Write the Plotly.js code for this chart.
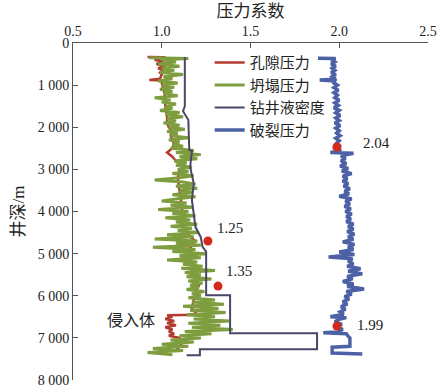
<!DOCTYPE html>
<html>
<head>
<meta charset="utf-8">
<script src="https://cdn.plot.ly/plotly-3.0.1.min.js"></script>
<style>html,body{margin:0;padding:0;background:#fff;}#chart{width:438px;height:390px;}</style>
</head>
<body>
<div id="chart"></div>
<script>
// ---- Data (depth in m, pressure coefficient) ----
const seriesNames = ["孔隙压力", "坍塌压力", "钻井液密度", "破裂压力"];

const poreDepth = [330,340,400,450,500,550,600,650,700,750,850,880,890,950,1100,1300,1500,1700,1900,2000,2100,2200,2300,2400,2500,2600,2700,2800,2900,3000,3050,3200,3500,3800,4100,4400,4600,4700,4800,4900,5100,5300,5450,5500,5700,5750,5900,6100,6300,6450,6460,6500,6550,6600,6650,6700,6750,6800,6850,6900,6950,7000,7100,7200,7300];
const poreVal   = [0.92,1.02,0.96,1.01,0.97,1.02,0.98,1.01,0.99,1.00,0.99,0.93,1.01,1.00,1.01,1.02,1.02,1.03,1.03,1.04,1.06,1.05,1.06,1.07,1.06,1.03,1.06,1.08,1.11,1.12,1.10,1.09,1.10,1.11,1.12,1.13,1.16,1.19,1.15,1.17,1.16,1.18,1.17,1.20,1.18,1.21,1.19,1.18,1.17,1.20,1.03,1.06,1.02,1.07,1.03,1.08,1.02,1.06,1.04,1.07,1.04,1.10,1.12,1.10,1.08];

const collapseDepth = [350,370,400,450,500,550,600,650,700,750,800,850,900,950,1000,1050,1100,1150,1200,1250,1300,1350,1400,1450,1500,1550,1600,1650,1700,1750,1800,1850,1900,1950,2000,2050,2100,2150,2200,2250,2300,2350,2400,2450,2500,2550,2600,2650,2700,2750,2800,2850,2900,2950,3000,3050,3100,3150,3200,3250,3300,3350,3400,3450,3500,3550,3600,3650,3700,3750,3800,3850,3900,3950,4000,4050,4100,4150,4200,4250,4300,4350,4400,4450,4500,4550,4600,4650,4700,4750,4800,4850,4900,4950,5000,5050,5100,5150,5200,5250,5300,5350,5400,5450,5500,5550,5600,5650,5700,5750,5800,5850,5900,5950,6000,6050,6100,6150,6200,6250,6300,6350,6400,6450,6500,6550,6600,6650,6700,6750,6800,6850,6900,6950,7000,7050,7100,7150,7200,7250,7300,7350,7400];
const collapseVal   = [0.93,1.15,1.00,1.08,0.98,1.10,1.00,1.07,0.99,1.12,1.01,1.06,0.98,1.09,1.00,1.07,0.99,1.06,1.01,1.09,0.96,1.05,1.00,1.08,1.02,1.06,0.99,1.10,1.02,1.12,1.03,1.08,1.01,1.10,1.04,1.13,1.03,1.09,1.05,1.15,1.04,1.10,1.06,1.12,1.05,1.18,1.08,1.22,1.10,1.20,1.07,1.14,1.08,1.17,1.09,1.15,1.06,1.18,1.10,0.96,1.12,1.19,1.08,1.20,1.10,1.17,1.06,1.19,1.09,1.00,1.14,1.05,1.18,0.98,1.15,1.06,1.19,1.02,1.16,1.08,1.20,1.05,1.17,1.09,1.21,1.03,1.18,0.96,1.20,1.08,1.22,0.95,1.19,1.06,1.25,1.10,1.22,1.03,1.20,1.12,1.23,1.11,1.30,1.13,1.22,1.14,1.28,1.15,1.23,1.16,1.21,1.14,1.24,1.17,1.22,1.15,1.30,1.17,1.35,1.12,1.32,1.16,1.36,1.14,1.30,1.18,1.38,1.15,1.33,1.17,1.40,1.13,1.28,1.10,1.22,1.05,1.18,1.00,1.15,0.95,1.12,0.92,1.06];

const mudDepth = [330,1500,1620,1830,2540,2560,2940,3330,3730,4130,4370,4610,4840,4950,5990,5990,6890,6890,7270,7270,7410,7410];
const mudVal   = [1.13,1.13,1.12,1.15,1.155,1.17,1.16,1.18,1.17,1.18,1.19,1.22,1.23,1.25,1.25,1.385,1.385,1.875,1.875,1.215,1.215,1.14];

const fracDepth = [360,365,400,450,500,550,600,650,700,750,800,860,880,900,950,1000,1060,1120,1180,1240,1300,1360,1420,1480,1540,1600,1660,1720,1780,1840,1900,1960,2020,2080,2140,2200,2260,2320,2380,2440,2500,2560,2600,2620,2680,2740,2800,2860,2920,2980,3040,3100,3160,3220,3280,3340,3400,3460,3520,3580,3640,3700,3760,3820,3880,3940,4000,4060,4120,4180,4240,4300,4360,4420,4480,4540,4600,4660,4720,4780,4840,4900,4960,5020,5080,5120,5180,5240,5300,5360,5420,5480,5540,5600,5660,5720,5780,5840,5900,5960,6020,6080,6140,6200,6260,6320,6380,6440,6500,6520,6560,6620,6680,6740,6800,6860,6880,6900,6960,7000,7200,7220,7360,7380];
const fracVal   = [1.88,1.98,1.955,1.975,1.955,1.98,1.96,1.975,1.955,1.98,1.96,1.98,1.89,1.975,1.97,1.99,1.97,1.995,1.97,1.99,1.975,2.00,1.975,1.995,1.97,2.00,1.98,2.005,1.98,2.00,1.975,2.005,1.98,2.00,1.985,2.005,1.98,2.00,1.985,2.00,1.98,2.01,1.95,2.08,2.01,2.035,2.01,2.04,2.005,2.05,2.015,2.07,2.02,2.045,2.02,2.05,2.025,2.06,2.03,2.055,2.00,2.07,2.035,2.06,2.03,2.065,2.035,2.07,2.04,2.065,2.04,2.08,2.05,2.08,2.045,2.085,2.05,2.08,2.02,2.085,2.05,2.08,2.00,2.085,1.94,2.075,2.05,2.08,2.045,2.12,2.05,2.13,2.045,2.075,2.02,2.08,2.045,2.14,2.04,2.07,2.03,2.055,2.02,2.045,2.01,2.035,2.005,2.025,1.95,2.04,2.00,1.975,2.015,1.98,2.02,1.99,1.91,2.04,2.05,2.06,2.06,1.96,1.96,2.13];

// highlighted points and labels
const pointVal   = [1.987, 1.26, 1.317, 1.987];
const pointDepth = [2470, 4700, 5770, 6720];
const pointLabels = ["2.04", "1.25", "1.35", "1.99"];
const labelVal   = [2.12, 1.30, 1.35, 2.09];
const labelDepth = [2375, 4394, 5416, 6700];
const noteText = "侵入体";
const noteVal = 0.68, noteDepth = 6580;

const xTickVals = [0.5, 1.0, 1.5, 2.0, 2.5];
const xTickText = ["0.5", "1.0", "1.5", "2.0", "2.5"];
const yTickVals = [0, 1000, 2000, 3000, 4000, 5000, 6000, 7000, 8000];
const yTickText = ["0", "1 000", "2 000", "3 000", "4 000", "5 000", "6 000", "7 000", "8 000"];

const FONT = "'Liberation Serif', 'Noto Sans CJK SC', serif";
const colors = ["#b23a2e", "#7e9d3e", "#4a4766", "#4d62a6"];

const traces = [
  {x: poreVal, y: poreDepth, name: seriesNames[0], mode: "lines", line: {color: colors[0], width: 2.5}},
  {x: collapseVal, y: collapseDepth, name: seriesNames[1], mode: "lines", line: {color: colors[1], width: 3}},
  {x: mudVal, y: mudDepth, name: seriesNames[2], mode: "lines", line: {color: colors[2], width: 2}},
  {x: fracVal, y: fracDepth, name: seriesNames[3], mode: "lines", line: {color: colors[3], width: 3.5}},
  {x: pointVal, y: pointDepth, mode: "markers", showlegend: false, hoverinfo: "skip",
   marker: {color: "#d42a1e", size: 9, line: {width: 0}}}
];

const annotations = pointLabels.map((t, i) => ({
  x: labelVal[i], y: labelDepth[i], xref: "x", yref: "y", text: t, showarrow: false,
  xanchor: "left", yanchor: "middle", font: {family: FONT, size: 15, color: "#222"}
}));
annotations.push({x: noteVal, y: noteDepth, xref: "x", yref: "y", text: noteText, showarrow: false,
  xanchor: "left", yanchor: "middle", font: {family: FONT, size: 16, color: "#222"}});

const layout = {
  width: 438, height: 390,
  margin: {l: 73, r: 10, t: 43, b: 10},
  paper_bgcolor: "#fff", plot_bgcolor: "#fff",
  font: {family: FONT, color: "#222"},
  showlegend: true,
  legend: {x: 0.385, y: 0.99, xanchor: "left", yanchor: "top", bgcolor: "rgba(0,0,0,0)",
           font: {family: FONT, size: 15, color: "#222"}, tracegroupgap: 0},
  xaxis: {side: "top", range: [0.5, 2.5], tickvals: xTickVals, ticktext: xTickText,
          showline: true, linecolor: "#555", linewidth: 1, mirror: false,
          ticks: "inside", ticklen: 5, tickcolor: "#555", showgrid: false, zeroline: false,
          tickfont: {family: FONT, size: 14, color: "#222"},
          title: {text: "压力系数", font: {family: FONT, size: 17, color: "#222"}, standoff: 2}},
  yaxis: {range: [8000, 0], tickvals: yTickVals, ticktext: yTickText,
          showline: true, linecolor: "#555", linewidth: 1,
          ticks: "inside", ticklen: 5, tickcolor: "#555", showgrid: false, zeroline: false,
          tickfont: {family: FONT, size: 14, color: "#222"},
          title: {text: "井深/m", font: {family: FONT, size: 17, color: "#222"}, standoff: 8}},
  annotations: annotations
};

Plotly.newPlot("chart", traces, layout, {displayModeBar: false, staticPlot: true});
</script>
</body>
</html>
